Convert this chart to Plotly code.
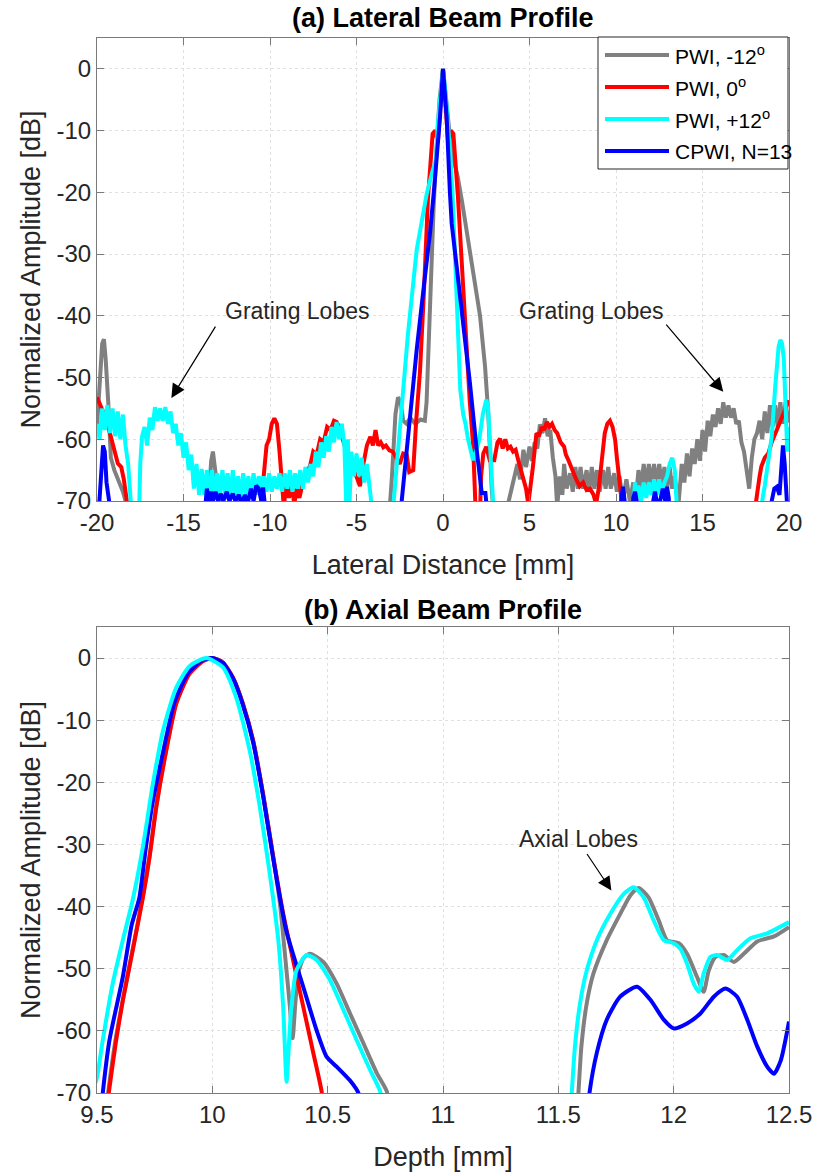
import plotly.graph_objects as go

# ---------------- data ----------------
# Lateral beam profile: (lateral distance [mm], amplitude [dB])
lat_gray = [(-20.0,-58),(-19.85,-50),(-19.7,-44.5),(-19.6,-43.8),(-19.5,-47),(-19.35,-54),(-19.2,-63),(-19.0,-65),(-18.8,-66.5),(-18.5,-68.5),(-18.3,-70.5),(-18.0,-76),
            (-13.7,-76),(-13.55,-70),(-13.4,-63.5),(-13.3,-62),(-13.15,-65),(-12.95,-70),(-12.8,-76),
            (-3.2,-76),(-2.95,-66),(-2.75,-56),(-2.6,-53.2),(-2.45,-54),(-2.3,-57),(-2.1,-57.5),(-1.9,-56.5),(-1.6,-57.5),(-1.3,-56.8),(-1.05,-57),(-0.95,-54),(-0.85,-45),(-0.7,-33),(-0.55,-23),(-0.4,-14),(-0.2,-5),(0.0,0),
            (0.2,-5),(0.4,-11),(0.6,-14.5),(0.85,-17.5),(1.1,-21.5),(1.35,-26),(1.56,-29.3),(1.85,-34.5),(2.14,-40),(2.43,-48.2),(2.62,-56),(2.81,-67.7),(2.95,-73),(3.3,-76),
            (3.7,-71),(3.9,-68.5),(4.1,-66),(4.3,-64),(4.45,-66.5),(4.65,-61.7),(4.8,-64.5),(5.0,-61.2),(5.15,-63.5),(5.3,-60.5),(5.45,-61.5),(5.6,-57.6),(5.75,-59),(5.9,-56.6),(6.05,-59.5),(6.2,-58.5),(6.35,-63),(6.5,-66),(6.6,-71),(6.75,-66),(6.9,-69),(7.0,-64),(7.15,-68),(7.35,-65.5),(7.5,-68.5),(7.65,-64.5),(7.8,-68),(7.95,-64.5),(8.1,-68),(8.3,-65),(8.45,-68.5),(8.6,-64.5),(8.75,-68),(8.9,-65),(9.05,-68.5),(9.25,-65),(9.4,-68),(9.55,-64.5),(9.7,-68),(9.9,-65.5),(10.05,-68.5),(10.2,-66),(10.4,-70),(10.6,-66.5),(10.8,-70),(11.0,-67),(11.15,-69.5),(11.3,-65),(11.45,-68),(11.6,-64),(11.75,-67.5),(11.9,-64),(12.05,-67.5),(12.2,-64),(12.35,-67.5),(12.5,-64),(12.65,-67.5),(12.8,-64.5),(12.95,-68),(13.1,-64.5),(13.25,-68),(13.4,-66),(13.6,-71),(13.8,-64),(13.95,-67),(14.1,-62.3),(14.25,-66),(14.4,-61.5),(14.55,-64),(14.7,-60),(14.85,-63.5),(15.0,-58.5),(15.15,-62),(15.3,-57),(15.45,-59.5),(15.6,-56),(15.75,-58),(15.9,-55),(16.05,-57.5),(16.2,-54),(16.35,-56.5),(16.5,-54.5),(16.65,-56.5),(16.8,-55),(16.95,-57.5),(17.1,-57),(17.25,-60.5),(17.4,-62),(17.55,-65),(17.7,-68),(17.85,-63),(18.0,-60),(18.15,-59),(18.3,-57),(18.45,-60),(18.6,-55.5),(18.75,-59),(18.9,-54.5),(19.05,-58),(19.2,-54.5),(19.35,-58),(19.5,-54),(19.65,-57.5),(19.8,-54),(19.95,-57),(20.0,-57)]

lat_red = [(-20.0,-53.2),(-19.8,-54.5),(-19.5,-56.5),(-19.3,-58.5),(-19.0,-61.7),(-18.8,-63.9),(-18.6,-64.5),(-18.45,-66.5),(-18.25,-70.5),(-18.0,-76),
           (-10.7,-76),(-10.5,-70),(-10.4,-67.8),(-10.2,-61),(-10.05,-60),(-9.9,-57.5),(-9.75,-56.6),(-9.6,-57.5),(-9.45,-62),(-9.3,-67),(-9.2,-71),(-9.05,-67),(-8.9,-69.5),(-8.75,-67),(-8.6,-70.5),(-8.45,-68),(-8.3,-69.5),(-8.1,-67),(-7.9,-65),(-7.7,-64.5),(-7.5,-62),(-7.3,-62.5),(-7.1,-60),(-6.9,-60.5),(-6.7,-58),(-6.5,-58.5),(-6.3,-57),(-6.15,-57.2),(-6.0,-58),(-5.85,-59.5),(-5.7,-61),(-5.55,-62.3),(-5.4,-63),(-5.2,-64.4),(-5.0,-66),(-4.8,-67.6),(-4.6,-64),(-4.4,-61),(-4.2,-59.6),(-4.05,-61),(-3.9,-58.5),(-3.75,-61),(-3.6,-60.5),(-3.45,-61.3),(-3.3,-61),(-3.1,-61.8),(-2.9,-62),(-2.7,-63),(-2.5,-64),(-2.3,-62.3),(-2.1,-62.5),(-1.95,-65.3),(-1.8,-65),(-1.72,-65),(-1.55,-57),(-1.33,-49),(-1.1,-36),(-0.87,-21),(-0.6,-10.5),(-0.45,-10),(-0.3,-12),(-0.15,-6),(0.0,0),
           (0.15,-6),(0.3,-12),(0.45,-10),(0.6,-10.5),(0.87,-21),(1.1,-33),(1.37,-45.4),(1.55,-54),(1.74,-61),(1.85,-70),(1.95,-76),
           (2.1,-76),(2.2,-66),(2.33,-62.3),(2.5,-61.2),(2.7,-63.4),(2.96,-63.4),(3.15,-60.5),(3.3,-59.9),(3.45,-61.5),(3.6,-60),(3.75,-61.5),(3.9,-61.2),(4.05,-62),(4.2,-61.7),(4.35,-63.4),(4.5,-65),(4.65,-66),(4.8,-68),(4.93,-70.5),(5.05,-68),(5.2,-64.4),(5.4,-59),(5.55,-59.5),(5.7,-58),(5.85,-58.5),(6.0,-57.2),(6.15,-58),(6.3,-57.5),(6.45,-58.5),(6.6,-59),(6.8,-60.5),(7.0,-61.2),(7.1,-62.5),(7.25,-63.4),(7.4,-64.5),(7.55,-65.5),(7.7,-66.5),(7.9,-67.6),(8.1,-67),(8.3,-68.2),(8.5,-68),(8.7,-69),(8.85,-70.5),(9.0,-68),(9.1,-65),(9.2,-62),(9.35,-59),(9.5,-57.5),(9.65,-57),(9.8,-58),(9.95,-60.1),(10.05,-63),(10.15,-65),(10.25,-68),(10.35,-71),(10.5,-76),
           (18.0,-76),(18.1,-70),(18.3,-66),(18.4,-64.4),(18.6,-63),(18.8,-62.3),(19.0,-60.5),(19.2,-59),(19.4,-57.5),(19.6,-56.4),(19.8,-55),(20.0,-53.7)]

lat_cyan = [(-20.0,-57.5),(-19.85,-60),(-19.7,-55),(-19.55,-58.5),(-19.4,-54.5),(-19.25,-59),(-19.1,-55),(-18.95,-59.5),(-18.8,-55.5),(-18.65,-60),(-18.5,-56),(-18.35,-61),(-18.2,-64),(-18.05,-70),(-17.9,-76),
            (-17.6,-76),(-17.5,-64),(-17.4,-59.6),(-17.25,-58),(-17.1,-61),(-16.95,-56.5),(-16.8,-58.5),(-16.65,-54.8),(-16.5,-57),(-16.35,-55),(-16.2,-57),(-16.05,-54.8),(-15.9,-57.5),(-15.75,-55.5),(-15.6,-59),(-15.45,-57.5),(-15.3,-61),(-15.15,-59),(-15.0,-63),(-14.85,-60.5),(-14.7,-65),(-14.55,-62.5),(-14.4,-68),(-14.25,-64),(-14.1,-69),(-13.95,-64.8),(-13.8,-69),(-13.65,-65),(-13.5,-69.5),(-13.35,-65),(-13.2,-69),(-13.05,-65.5),(-12.9,-69),(-12.75,-65),(-12.6,-69),(-12.45,-65.5),(-12.3,-69.5),(-12.15,-65),(-12.0,-69),(-11.85,-66),(-11.7,-69.5),(-11.55,-65.5),(-11.4,-69),(-11.25,-66),(-11.1,-69.5),(-10.95,-65.5),(-10.8,-69),(-10.65,-66),(-10.5,-68.5),(-10.35,-66),(-10.2,-68.5),(-10.05,-65.5),(-9.9,-68.5),(-9.75,-66),(-9.6,-68),(-9.45,-65.5),(-9.3,-68.5),(-9.15,-65.5),(-9.0,-68),(-8.85,-65),(-8.7,-68.5),(-8.55,-65.5),(-8.4,-68),(-8.25,-65),(-8.1,-68),(-7.95,-64.5),(-7.8,-67),(-7.65,-64),(-7.5,-66),(-7.35,-62),(-7.2,-64.5),(-7.05,-60.5),(-6.9,-63),(-6.75,-59.5),(-6.6,-62),(-6.45,-58),(-6.3,-60.5),(-6.15,-57.2),(-6.0,-60),(-5.85,-57.5),(-5.7,-61),(-5.6,-70),(-5.5,-60),(-5.4,-70),(-5.3,-62),(-5.15,-66),(-5.0,-62.3),(-4.85,-66),(-4.7,-63),(-4.55,-67),(-4.4,-64),(-4.25,-67.5),(-4.15,-70),(-4.0,-76),
            (-3.1,-76),(-2.85,-70),(-2.68,-64.4),(-2.39,-53.6),(-2.02,-42.8),(-1.52,-29.3),(-0.94,-20.2),(-0.6,-16.5),(-0.4,-14.7),(-0.3,-9),(-0.15,-4),(0.0,0),
            (0.15,-4),(0.3,-9),(0.4,-13),(0.55,-20),(0.69,-29.3),(0.8,-38),(0.89,-45.4),(1.0,-52),(1.17,-56),(1.3,-57.5),(1.45,-60),(1.6,-61.5),(1.74,-63.4),(1.9,-62),(2.1,-60),(2.3,-56),(2.5,-53.6),(2.6,-54.5),(2.75,-62),(2.9,-70),(3.0,-76),
            (10.9,-76),(11.0,-70),(11.1,-67),(11.2,-69.5),(11.3,-67.5),(11.45,-70),(11.6,-67),(11.75,-69.5),(11.9,-67),(12.05,-69),(12.2,-66.5),(12.35,-69),(12.5,-66.5),(12.65,-69),(12.8,-67),(12.95,-66),(13.1,-64),(13.25,-63),(13.4,-65),(13.5,-70),(13.6,-76),
            (18.3,-76),(18.45,-70),(18.6,-67.5),(18.8,-63),(19.0,-59.6),(19.2,-51.6),(19.4,-45),(19.5,-43.9),(19.6,-44.5),(19.7,-47),(19.8,-54),(19.9,-62),(20.0,-58)]

lat_blue = [(-20.0,-76),(-19.85,-70),(-19.75,-64),(-19.65,-61),(-19.55,-62),(-19.45,-67),(-19.3,-70),(-19.15,-76),
            (-13.9,-76),(-13.75,-70),(-13.65,-68),(-13.55,-70),(-13.4,-68.5),(-13.3,-70),(-13.15,-68.5),(-13.0,-70),(-12.85,-68.8),(-12.7,-70),(-12.5,-68.5),(-12.35,-70),(-12.15,-68.8),(-12.0,-70),(-11.8,-69),(-11.65,-70.5),(-11.45,-69),(-11.3,-70.5),(-11.1,-68),(-10.95,-70),(-10.8,-67.5),(-10.65,-68),(-10.5,-70),(-10.4,-67.8),(-10.3,-70.5),(-10.1,-76),
            (-2.6,-76),(-2.39,-70),(-2.2,-64),(-1.9,-55.5),(-1.52,-45.5),(-1.1,-35),(-0.75,-26.6),(-0.5,-19),(-0.36,-14.7),(-0.17,-7.7),(0.0,0),
            (0.21,-7.7),(0.4,-20),(0.5,-25),(0.79,-32),(1.2,-42),(1.56,-51),(1.95,-61.8),(2.24,-68.7),(2.45,-68.7),(2.58,-72),(2.7,-76),
            (10.2,-76),(10.3,-70),(10.4,-67.7),(10.5,-70),(10.6,-76),(10.9,-76),(11.0,-69.5),(11.1,-68.5),(11.2,-70),(11.3,-76),
            (12.05,-76),(12.15,-70),(12.25,-68.5),(12.35,-70),(12.55,-70),(12.7,-68),(12.85,-70),(12.95,-67.7),(13.05,-69.5),(13.15,-76),
            (18.9,-76),(19.0,-70),(19.15,-68),(19.3,-67.7),(19.45,-69),(19.55,-64),(19.65,-61),(19.75,-64),(19.85,-70),(20.0,-76)]

# Axial beam profile: (depth [mm], amplitude [dB])
ax_gray = [(9.53,-76),(9.548,-70),(9.58,-61.5),(9.612,-55),(9.655,-46.8),(9.699,-38.3),(9.728,-31.8),(9.757,-23.8),(9.8,-14.8),(9.843,-7.3),(9.9,-2.5),(9.959,-0.4),(10.0,0),(10.046,-0.7),(10.09,-3.2),(10.133,-7.4),(10.177,-13.3),(10.22,-21.9),(10.264,-32.0),(10.293,-39.5),(10.32,-49.7),(10.336,-56),(10.348,-61.2),(10.36,-55.5),(10.372,-50.8),(10.395,-48.3),(10.423,-47.6),(10.481,-48.9),(10.539,-52.4),(10.597,-57.2),(10.655,-62),(10.713,-66.8),(10.757,-69.8),(10.775,-76),
           (11.575,-76),(11.587,-70),(11.6,-62.5),(11.623,-55.6),(11.652,-50.8),(11.71,-45.4),(11.768,-41.2),(11.812,-38.2),(11.848,-37.0),(11.891,-38.5),(11.935,-42.2),(11.971,-45.4),(12.022,-45.9),(12.058,-47.6),(12.101,-51.3),(12.13,-53.7),(12.152,-50.3),(12.181,-48.1),(12.217,-47.8),(12.261,-48.9),(12.304,-47.6),(12.362,-45.6),(12.435,-44.8),(12.5,-43.3)]

ax_red = [(9.53,-76),(9.551,-70),(9.583,-61.5),(9.612,-55.1),(9.655,-47.0),(9.699,-38.5),(9.728,-32.0),(9.757,-24.0),(9.8,-14.9),(9.843,-7.4),(9.9,-2.6),(9.959,-0.5),(10.0,0),(10.046,-0.7),(10.09,-3.2),(10.133,-7.4),(10.177,-13.3),(10.22,-21.9),(10.264,-32.0),(10.307,-41.1),(10.35,-48.6),(10.394,-56.1),(10.438,-63.6),(10.474,-69.8),(10.49,-76)]

ax_blue = [(9.51,-76),(9.525,-70),(9.554,-61.5),(9.612,-51.3),(9.65,-43),(9.684,-38.5),(9.71,-31),(9.74,-23.5),(9.79,-14.5),(9.835,-7.2),(9.895,-2.4),(9.955,-0.4),(10.0,0),(10.046,-0.8),(10.09,-3.3),(10.133,-7.6),(10.177,-13.6),(10.22,-22.2),(10.264,-32.3),(10.32,-43.8),(10.394,-52.9),(10.452,-59.9),(10.496,-64.2),(10.54,-65.8),(10.597,-68),(10.633,-70),(10.65,-76),
           (11.62,-76),(11.635,-70),(11.667,-63.5),(11.71,-58.2),(11.768,-54.5),(11.841,-52.9),(11.899,-55),(11.957,-58.2),(12.0,-59.6),(12.058,-58.8),(12.116,-57.2),(12.174,-54.5),(12.225,-53.2),(12.275,-54.5),(12.319,-58.2),(12.362,-62.5),(12.406,-65.8),(12.435,-66.9),(12.464,-64.8),(12.5,-58.5)]

ax_cyan = [(9.49,-68.7),(9.5,-67.5),(9.525,-61.5),(9.568,-52.4),(9.612,-45.4),(9.655,-38.9),(9.699,-30.4),(9.742,-20.3),(9.786,-11.7),(9.843,-4.8),(9.901,-1.3),(9.974,0),(10.046,-1.5),(10.104,-6.4),(10.162,-14.9),(10.206,-24),(10.249,-34.7),(10.286,-45.4),(10.307,-56.1),(10.322,-68.2),(10.333,-61.5),(10.343,-56.1),(10.365,-50.2),(10.409,-47.8),(10.452,-48.6),(10.51,-51.8),(10.568,-56.6),(10.626,-61.5),(10.684,-66.3),(10.728,-69.8),(10.745,-76),
           (11.545,-76),(11.558,-70),(11.572,-62.5),(11.594,-55.6),(11.623,-50.3),(11.667,-45.4),(11.725,-41.2),(11.783,-38.0),(11.826,-36.9),(11.87,-38.5),(11.913,-42.2),(11.957,-45.4),(12.0,-45.9),(12.029,-46.8),(12.058,-49.2),(12.087,-52.4),(12.109,-53.7),(12.13,-50.8),(12.159,-48.1),(12.188,-47.8),(12.232,-48.6),(12.275,-47.0),(12.333,-45.1),(12.406,-44.3),(12.5,-42.5)]

series_names = ["PWI, -12<sup>o</sup>", "PWI, 0<sup>o</sup>", "PWI, +12<sup>o</sup>", "CPWI, N=13"]
series_colors = ["#808080", "#ff0000", "#00ffff", "#0000ff"]

lat_xticks = [-20, -15, -10, -5, 0, 5, 10, 15, 20]
lat_xticktext = ["-20", "-15", "-10", "-5", "0", "5", "10", "15", "20"]
ax_xticks = [9.5, 10, 10.5, 11, 11.5, 12, 12.5]
ax_xticktext = ["9.5", "10", "10.5", "11", "11.5", "12", "12.5"]
y_ticks = [-70, -60, -50, -40, -30, -20, -10, 0]
y_ticktext = ["-70", "-60", "-50", "-40", "-30", "-20", "-10", "0"]

# ---------------- figure ----------------
FONT = "Liberation Sans, Arial, sans-serif"
TXT = "#262626"
LW = 4
W, H = 818, 1173
ML, MR, MT, MB = 97, 29, 38, 80

def px2paper_x(px):
    return (px - ML) / (W - ML - MR)

def px2paper_y(py):
    return (H - MB - py) / (H - MT - MB)

fig = go.Figure()

def xs(p):
    return [a for a, b in p]

def ys(p):
    return [b for a, b in p]

lat_series = [lat_gray, lat_red, lat_cyan, lat_blue]
for i, s in enumerate(lat_series):
    fig.add_trace(go.Scatter(x=xs(s), y=ys(s), mode="lines", name=series_names[i],
                             line=dict(color=series_colors[i], width=LW),
                             showlegend=False, xaxis="x", yaxis="y"))

ax_series = [(ax_gray, 0), (ax_red, 1), (ax_blue, 3), (ax_cyan, 2)]
for s, i in ax_series:
    fig.add_trace(go.Scatter(x=xs(s), y=ys(s), mode="lines", name=series_names[i],
                             line=dict(color=series_colors[i], width=LW, shape="spline", smoothing=0.6),
                             showlegend=False, xaxis="x2", yaxis="y2"))

axis_common = dict(showline=True, linecolor="#7a7a7a", linewidth=1, mirror="ticks",
                   ticks="inside", ticklen=7, tickcolor="#7a7a7a", automargin=False,
                   showgrid=True, gridcolor="#e0e0e0", griddash="dot", gridwidth=1,
                   zeroline=False, tickfont=dict(family=FONT, size=24, color=TXT),
                   title_font=dict(family=FONT, size=27, color=TXT))

top_dom = [px2paper_y(501), 1.0]
bot_dom = [0.0, px2paper_y(627)]

fig.update_layout(
    width=W, height=H,
    margin=dict(l=ML, r=MR, t=MT, b=MB, autoexpand=False),
    paper_bgcolor="white", plot_bgcolor="white",
    font=dict(family=FONT, color=TXT),
    xaxis=dict(domain=[0, 1], anchor="y", range=[-20, 20], tickvals=lat_xticks,
               ticktext=lat_xticktext,
               title=dict(text="Lateral Distance [mm]", standoff=20), **axis_common),
    yaxis=dict(domain=top_dom, anchor="x", range=[-70, 5], tickvals=y_ticks,
               ticktext=y_ticktext,
               title=dict(text="Normalized Amplitude [dB]", standoff=8), **axis_common),
    xaxis2=dict(domain=[0, 1], anchor="y2", range=[9.5, 12.5], tickvals=ax_xticks,
                ticktext=ax_xticktext, title=dict(text="Depth [mm]", standoff=20), **axis_common),
    yaxis2=dict(domain=bot_dom, anchor="x2", range=[-70, 5], tickvals=y_ticks,
                ticktext=y_ticktext,
                title=dict(text="Normalized Amplitude [dB]", standoff=8), **axis_common),
    showlegend=False,
)

# ---- legend drawn as a framed box (MATLAB style, long line samples) ----
leg_rows_py = [55, 87, 119, 151]
shapes = [dict(type="rect", xref="paper", yref="paper",
               x0=px2paper_x(598), x1=px2paper_x(788), y0=px2paper_y(169), y1=px2paper_y(37),
               fillcolor="white", line=dict(color="#262626", width=1), layer="above")]
annotations = []
for i, py in enumerate(leg_rows_py):
    yp = px2paper_y(py)
    shapes.append(dict(type="line", xref="paper", yref="paper",
                       x0=px2paper_x(605), x1=px2paper_x(669), y0=yp, y1=yp,
                       line=dict(color=series_colors[i], width=LW), layer="above"))
    annotations.append(dict(text=series_names[i], xref="paper", yref="paper",
                            x=px2paper_x(673), y=yp, xanchor="left", yanchor="middle",
                            showarrow=False, font=dict(family=FONT, size=21, color="black")))

annotations += [
    dict(text="<b>(a) Lateral Beam Profile</b>", xref="paper", yref="paper", x=0.5, y=1.0,
         yshift=20, showarrow=False, font=dict(family=FONT, size=27, color="black"), yanchor="middle"),
    dict(text="<b>(b) Axial Beam Profile</b>", xref="paper", yref="paper", x=0.5, y=bot_dom[1],
         yshift=17, showarrow=False, font=dict(family=FONT, size=27, color="black"), yanchor="middle"),
    dict(text="Grating Lobes", xref="x", yref="y", x=-8.44, y=-39.2, showarrow=False,
         font=dict(family=FONT, size=23, color=TXT)),
    dict(text="Grating Lobes", xref="x", yref="y", x=8.55, y=-39.2, showarrow=False,
         font=dict(family=FONT, size=23, color=TXT)),
    dict(text="", xref="x", yref="y", x=-15.7, y=-53.3, axref="x", ayref="y", ax=-13.1, ay=-41.5,
         showarrow=True, arrowhead=2, arrowsize=2.3, arrowwidth=1.2, arrowcolor="black"),
    dict(text="", xref="x", yref="y", x=16.2, y=-52.3, axref="x", ayref="y", ax=12.83, ay=-41.2,
         showarrow=True, arrowhead=2, arrowsize=2.3, arrowwidth=1.2, arrowcolor="black"),
    dict(text="Axial Lobes", xref="x2", yref="y2", x=11.589, y=-29.1, showarrow=False,
         font=dict(family=FONT, size=23, color=TXT)),
    dict(text="", xref="x2", yref="y2", x=11.73, y=-37.4, axref="x2", ayref="y2", ax=11.62, ay=-31.3,
         showarrow=True, arrowhead=2, arrowsize=2.3, arrowwidth=1.2, arrowcolor="black"),
]
fig.update_layout(shapes=shapes, annotations=annotations)

fig.write_html("out.html")
